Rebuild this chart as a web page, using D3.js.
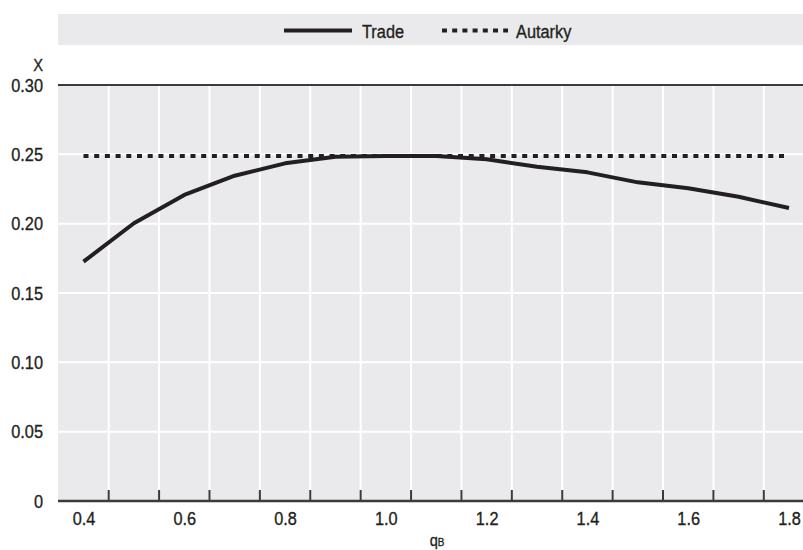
<!DOCTYPE html>
<html>
<head>
<meta charset="utf-8">
<script src="https://cdn.jsdelivr.net/npm/d3@7"></script>
<style>
  html, body { margin: 0; padding: 0; background: #ffffff; }
  svg { display: block; }
  text { font-family: "Liberation Sans", Arial, sans-serif; fill: #231f20; stroke: #231f20; stroke-width: 0.35px; }
</style>
</head>
<body>
<svg id="chart" width="803" height="550"></svg>
<script>
// Categories along the horizontal axis (q_B)
const categories = ["0.4", "0.5", "0.6", "0.7", "0.8", "0.9", "1.0", "1.1",
                    "1.2", "1.3", "1.4", "1.5", "1.6", "1.7", "1.8"];
// X under trade
const tradeValues = [0.1726, 0.2003, 0.2207, 0.2346, 0.2435, 0.2483, 0.2488, 0.2488,
                     0.2464, 0.2411, 0.2370, 0.2298, 0.2255, 0.2194, 0.2113];
// X under autarky
const autarkyValues = [0.2488, 0.2488, 0.2488, 0.2488, 0.2488, 0.2488, 0.2488, 0.2488,
                       0.2488, 0.2488, 0.2488, 0.2488, 0.2488, 0.2488, 0.2488];
// Axis labels
const xTickLabels = ["0.4", "0.6", "0.8", "1.0", "1.2", "1.4", "1.6", "1.8"];
const yTickValues = [0, 0.05, 0.10, 0.15, 0.20, 0.25, 0.30];
const yTickLabels = ["0", "0.05", "0.10", "0.15", "0.20", "0.25", "0.30"];
const seriesNames = ["Trade", "Autarky"];

const plot = { left: 58, right: 803, top: 85, bottom: 501 };
const ink = "#231f20";
const axisInk = "#3b3b3d";
const panel = "#eaeaec";
const fontSize = 19;
const narrow = 0.86;   // horizontal squeeze for a condensed look

const svg = d3.select("#chart");

// Places a condensed text with its anchor at (px, py)
function condensedText(parent, px, py, str, anchor, size) {
  return parent.append("text")
    .attr("transform", `translate(${px},${py}) scale(${narrow},1)`)
    .attr("text-anchor", anchor)
    .style("font-size", size + "px")
    .text(str);
}

const x = d3.scalePoint().domain(categories).range([83.5, 789]);
const step = x.step();
const y = d3.scaleLinear().domain([0, 0.30]).range([plot.bottom, plot.top]);

// Legend band
svg.append("rect")
  .attr("x", plot.left).attr("y", 14)
  .attr("width", plot.right - plot.left).attr("height", 31)
  .attr("fill", panel);

const legend = svg.append("g");
legend.append("line")
  .attr("x1", 284).attr("x2", 352).attr("y1", 30.5).attr("y2", 30.5)
  .attr("stroke", ink).attr("stroke-width", 4);
condensedText(legend, 362, 37.5, seriesNames[0], "start", fontSize);
legend.append("line")
  .attr("x1", 442).attr("x2", 508).attr("y1", 30.5).attr("y2", 30.5)
  .attr("stroke", ink).attr("stroke-width", 4)
  .attr("stroke-dasharray", "5,5.2");
condensedText(legend, 516, 37.5, seriesNames[1], "start", fontSize);

// Plot panel
svg.append("rect")
  .attr("x", plot.left).attr("y", plot.top)
  .attr("width", plot.right - plot.left).attr("height", plot.bottom - plot.top)
  .attr("fill", panel);

// Category boundaries: vertical gridlines and ticks sit between categories
const boundaries = categories.slice(0, -1).map(c => x(c) + step / 2);

svg.append("g").selectAll("line")
  .data(boundaries)
  .join("line")
  .attr("x1", d => d).attr("x2", d => d)
  .attr("y1", plot.top).attr("y2", plot.bottom)
  .attr("stroke", "#ffffff").attr("stroke-width", 2);

svg.append("g").selectAll("line")
  .data(yTickValues.filter(v => v > 0 && v < 0.30))
  .join("line")
  .attr("x1", plot.left).attr("x2", plot.right)
  .attr("y1", d => y(d)).attr("y2", d => y(d))
  .attr("stroke", "#ffffff").attr("stroke-width", 2);

// Top frame line at 0.30
svg.append("line")
  .attr("x1", plot.left).attr("x2", plot.right)
  .attr("y1", y(0.30)).attr("y2", y(0.30))
  .attr("stroke", axisInk).attr("stroke-width", 2);

// Series lines
const line = d3.line()
  .x((d, i) => x(categories[i]))
  .y(d => y(d));

svg.append("path")
  .datum(autarkyValues)
  .attr("d", line)
  .attr("fill", "none")
  .attr("stroke", ink).attr("stroke-width", 4)
  .attr("stroke-dasharray", "5,5.7");

svg.append("path")
  .datum(tradeValues)
  .attr("d", line)
  .attr("fill", "none")
  .attr("stroke", ink).attr("stroke-width", 4)
  .attr("stroke-linejoin", "round");

// Baseline and inward ticks
svg.append("line")
  .attr("x1", plot.left).attr("x2", plot.right)
  .attr("y1", y(0)).attr("y2", y(0))
  .attr("stroke", axisInk).attr("stroke-width", 2.5);

svg.append("g").selectAll("line")
  .data(boundaries)
  .join("line")
  .attr("x1", d => d).attr("x2", d => d)
  .attr("y1", y(0)).attr("y2", y(0) - 11)
  .attr("stroke", axisInk).attr("stroke-width", 2);

// Y axis labels
const yAxis = d3.axisLeft(y)
  .tickValues(yTickValues)
  .tickFormat((d, i) => yTickLabels[i])
  .tickSize(0)
  .tickPadding(15 / narrow);
const gy = svg.append("g").attr("transform", `translate(${plot.left},0)`).call(yAxis);
gy.select(".domain").remove();
gy.selectAll("text")
  .attr("transform", `scale(${narrow},1)`)
  .style("font-size", fontSize + "px").style("font-family", null).attr("fill", ink);

// X axis labels
const xAxis = d3.axisBottom(x)
  .tickValues(xTickLabels)
  .tickSize(0)
  .tickPadding(11);
const gx = svg.append("g").attr("transform", `translate(0,${plot.bottom})`).call(xAxis);
gx.select(".domain").remove();
gx.selectAll("text")
  .attr("transform", `scale(${narrow},1)`)
  .style("font-size", fontSize + "px").style("font-family", null).attr("fill", ink);

// Axis titles
condensedText(svg, 43, 71, "X", "end", 17);

const xTitle = svg.append("text")
  .attr("transform", `translate(437,546) scale(${narrow},1)`)
  .attr("text-anchor", "middle");
xTitle.append("tspan").style("font-size", "17px").text("q");
xTitle.append("tspan").style("font-size", "11.5px").text("B");
</script>
</body>
</html>
